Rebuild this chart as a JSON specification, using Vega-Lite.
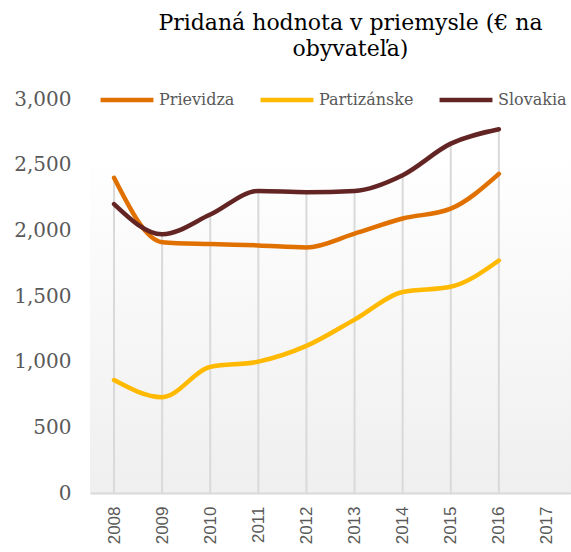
{
  "$schema": "https://vega.github.io/schema/vega-lite/v6.json",
  "width": 481,
  "height": 394,
  "autosize": {"type": "none"},
  "padding": {"left": 90, "top": 99, "right": 0, "bottom": 59},
  "background": "#ffffff",
  "config": {
    "view": {
      "stroke": null,
      "fill": {
        "gradient": "linear",
        "x1": 0, "y1": 0, "x2": 0, "y2": 1,
        "stops": [
          {"offset": 0, "color": "#ffffff"},
          {"offset": 0.13, "color": "#ffffff"},
          {"offset": 1, "color": "#efefef"}
        ]
      }
    }
  },
  "title": {
    "text": ["Pridaná hodnota v priemysle (€ na", "obyvateľa)"],
    "font": "DejaVu Serif",
    "fontSize": 22,
    "fontWeight": "normal",
    "color": "#000000",
    "anchor": "middle",
    "dx": 20,
    "offset": 10,
    "lineHeight": 26
  },
  "data": {
    "values": [
      {"year": "2008", "region": "Prievidza", "value": 2400},
      {"year": "2009", "region": "Prievidza", "value": 1910},
      {"year": "2010", "region": "Prievidza", "value": 1895},
      {"year": "2011", "region": "Prievidza", "value": 1885},
      {"year": "2012", "region": "Prievidza", "value": 1870},
      {"year": "2013", "region": "Prievidza", "value": 1975},
      {"year": "2014", "region": "Prievidza", "value": 2090},
      {"year": "2015", "region": "Prievidza", "value": 2165},
      {"year": "2016", "region": "Prievidza", "value": 2430},
      {"year": "2008", "region": "Partizánske", "value": 860},
      {"year": "2009", "region": "Partizánske", "value": 730},
      {"year": "2010", "region": "Partizánske", "value": 960},
      {"year": "2011", "region": "Partizánske", "value": 1000},
      {"year": "2012", "region": "Partizánske", "value": 1120},
      {"year": "2013", "region": "Partizánske", "value": 1320},
      {"year": "2014", "region": "Partizánske", "value": 1530},
      {"year": "2015", "region": "Partizánske", "value": 1570},
      {"year": "2016", "region": "Partizánske", "value": 1770},
      {"year": "2008", "region": "Slovakia", "value": 2200},
      {"year": "2009", "region": "Slovakia", "value": 1970},
      {"year": "2010", "region": "Slovakia", "value": 2120},
      {"year": "2011", "region": "Slovakia", "value": 2300},
      {"year": "2012", "region": "Slovakia", "value": 2290},
      {"year": "2013", "region": "Slovakia", "value": 2300},
      {"year": "2014", "region": "Slovakia", "value": 2420},
      {"year": "2015", "region": "Slovakia", "value": 2660},
      {"year": "2016", "region": "Slovakia", "value": 2770}
    ]
  },
  "layer": [
    {
      "mark": {"type": "rule", "color": "#d9d9d9", "strokeWidth": 2},
      "encoding": {
        "x": {"field": "year", "type": "ordinal"},
        "y": {"aggregate": "max", "field": "value", "type": "quantitative"},
        "y2": {"datum": 0}
      }
    },
    {
      "mark": {"type": "line", "interpolate": "monotone", "strokeWidth": 4.5, "strokeCap": "round"},
      "encoding": {
        "x": {
          "field": "year",
          "type": "ordinal",
          "scale": {"type": "point", "padding": 0.5, "domain": ["2008","2009","2010","2011","2012","2013","2014","2015","2016","2017"]},
          "axis": {
            "title": null,
            "labelAngle": -90,
            "labelFont": "Liberation Sans",
            "labelFontSize": 17,
            "labelColor": "#595959",
            "labelPadding": 13,
            "ticks": false,
            "grid": false,
            "domain": true,
            "domainColor": "#d9d9d9",
            "domainWidth": 2
          }
        },
        "y": {
          "field": "value",
          "type": "quantitative",
          "scale": {"domain": [0, 3000], "nice": false},
          "axis": {
            "title": null,
            "values": [0, 500, 1000, 1500, 2000, 2500, 3000],
            "format": ",d",
            "labelFont": "DejaVu Serif",
            "labelFontSize": 20,
            "labelColor": "#595959",
            "labelPadding": 19,
            "ticks": false,
            "domain": false,
            "grid": false
          }
        },
        "color": {
          "field": "region",
          "type": "nominal",
          "scale": {"domain": ["Prievidza", "Partizánske", "Slovakia"], "range": ["#e07000", "#ffb900", "#632523"]},
          "legend": {
            "title": null,
            "orient": "none",
            "direction": "horizontal",
            "legendX": 8,
            "legendY": -28,
            "symbolType": "stroke",
            "symbolSize": 2800,
            "symbolStrokeWidth": 4.5,
            "labelFont": "DejaVu Serif",
            "labelFontSize": 16,
            "labelColor": "#595959",
            "labelOffset": 3,
            "columnPadding": 16
          }
        }
      }
    }
  ]
}
